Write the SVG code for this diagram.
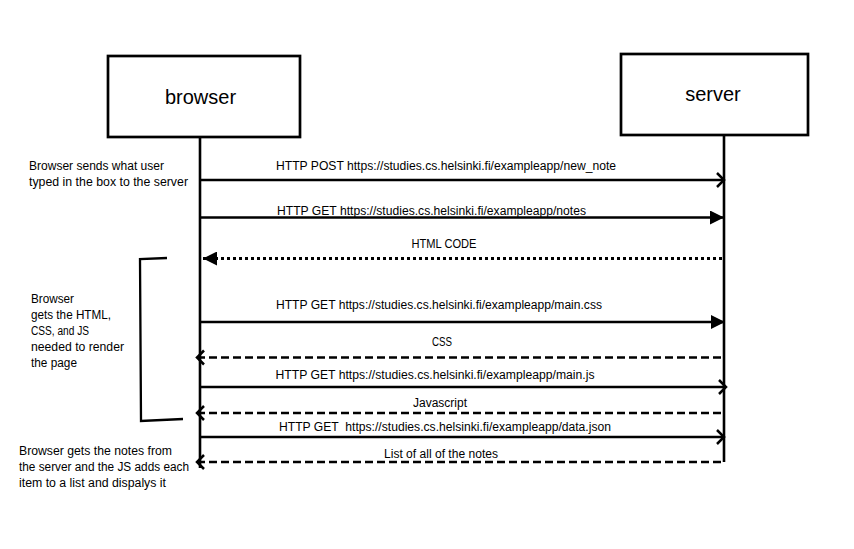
<svg xmlns="http://www.w3.org/2000/svg" width="854" height="549" viewBox="0 0 854 549">
<style>
text{font-family:"Liberation Sans",Arial,sans-serif;fill:#000}
.lbl{font-size:12px}
.side{font-size:12px}
.box{fill:#fff;stroke:#000;stroke-width:2.7}
.life{stroke:#000;stroke-width:2.6;fill:none}
.msg{stroke:#000;stroke-width:2.4;fill:none}
.dash{stroke-dasharray:8 4}
.dot{stroke-dasharray:3 3;stroke-width:3}
.title{font-size:20px}
</style>
<defs>
<marker id="tri" markerUnits="userSpaceOnUse" viewBox="0 0 14 14" refX="14" refY="7" markerWidth="14" markerHeight="14" orient="auto">
<path d="M0,0 L14,7 L0,14 Z" fill="#000"/>
</marker>
<marker id="open" markerUnits="userSpaceOnUse" viewBox="-2 -2 12 18" refX="7" refY="7" markerWidth="12" markerHeight="18" orient="auto" overflow="visible">
<path d="M0,0 L7,7 L0,14" fill="none" stroke="#000" stroke-width="2.5"/>
</marker>
</defs>
<rect width="854" height="549" fill="#fff"/>
<g id="browser">
<rect class="box" x="108" y="56" width="192" height="81"/>
<text class="title" x="200.5" y="103.5" text-anchor="middle">browser</text>
<line class="life" x1="200" y1="137" x2="200" y2="468"/>
</g>
<g id="server">
<rect class="box" x="621" y="54" width="187" height="81"/>
<text class="title" x="713" y="100.5" text-anchor="middle">server</text>
<line class="life" x1="724" y1="135" x2="724" y2="462"/>
</g>
<g id="connectors">
<line class="msg" x1="201" y1="180" x2="724" y2="180" marker-end="url(#open)"/>
<line class="msg" x1="201" y1="217.5" x2="724" y2="217.5" marker-end="url(#tri)"/>
<line class="msg dot" x1="722" y1="258.5" x2="203" y2="258.5" marker-end="url(#tri)"/>
<line class="msg" x1="201" y1="322" x2="725" y2="322" marker-end="url(#tri)"/>
<line class="msg dash" x1="721" y1="357.5" x2="197" y2="357.5" marker-end="url(#open)"/>
<line class="msg" x1="201" y1="387" x2="726" y2="387" marker-end="url(#open)"/>
<line class="msg dash" x1="721" y1="413" x2="197" y2="413" marker-end="url(#open)"/>
<line class="msg" x1="201" y1="437" x2="724" y2="437" marker-end="url(#open)"/>
<line class="msg dash" x1="721" y1="462" x2="197" y2="462" marker-end="url(#open)"/>
</g>
<g id="labels">
<text class="lbl" x="276" y="169.5" textLength="340" lengthAdjust="spacingAndGlyphs">HTTP POST https://studies.cs.helsinki.fi/exampleapp/new_note</text>
<text class="lbl" x="277" y="214.5" textLength="309" lengthAdjust="spacingAndGlyphs">HTTP GET https://studies.cs.helsinki.fi/exampleapp/notes</text>
<text class="lbl" x="411.5" y="248" textLength="65" lengthAdjust="spacingAndGlyphs">HTML CODE</text>
<text class="lbl" x="276" y="309" textLength="326" lengthAdjust="spacingAndGlyphs">HTTP GET https://studies.cs.helsinki.fi/exampleapp/main.css</text>
<text class="lbl" x="432" y="346" textLength="20" lengthAdjust="spacingAndGlyphs">CSS</text>
<text class="lbl" x="275.5" y="379" textLength="319" lengthAdjust="spacingAndGlyphs">HTTP GET https://studies.cs.helsinki.fi/exampleapp/main.js</text>
<text class="lbl" x="413" y="406.5" textLength="54" lengthAdjust="spacingAndGlyphs">Javascript</text>
<text class="lbl" x="279" y="431" textLength="332" lengthAdjust="spacingAndGlyphs" xml:space="preserve">HTTP GET  https://studies.cs.helsinki.fi/exampleapp/data.json</text>
<text class="lbl" x="384" y="458" textLength="114" lengthAdjust="spacingAndGlyphs">List of all of the notes</text>
</g>
<g id="note-submit">
<text class="side" x="29" y="169.5" textLength="135" lengthAdjust="spacingAndGlyphs">Browser sends what user</text>
<text class="side" x="29" y="185.5" textLength="159" lengthAdjust="spacingAndGlyphs">typed in the box to the server</text>
</g>
<g id="note-resources">
<polyline points="167,258 140,259 141,421 183,419" fill="none" stroke="#000" stroke-width="2.3"/>
<text class="side" x="31" y="302.5" textLength="43" lengthAdjust="spacingAndGlyphs">Browser</text>
<text class="side" x="31" y="318.5" textLength="80" lengthAdjust="spacingAndGlyphs">gets the HTML,</text>
<text class="side" x="31" y="335" textLength="58" lengthAdjust="spacingAndGlyphs">CSS, and JS</text>
<text class="side" x="31" y="351" textLength="93" lengthAdjust="spacingAndGlyphs">needed to render</text>
<text class="side" x="31" y="366.5" textLength="46" lengthAdjust="spacingAndGlyphs">the page</text>
</g>
<g id="note-data">
<text class="side" x="19" y="454.5" textLength="153" lengthAdjust="spacingAndGlyphs">Browser gets the notes from</text>
<text class="side" x="19" y="470.5" textLength="170" lengthAdjust="spacingAndGlyphs">the server and the JS adds each</text>
<text class="side" x="19" y="486.5" textLength="147" lengthAdjust="spacingAndGlyphs">item to a list and dispalys it</text>
</g>
</svg>
